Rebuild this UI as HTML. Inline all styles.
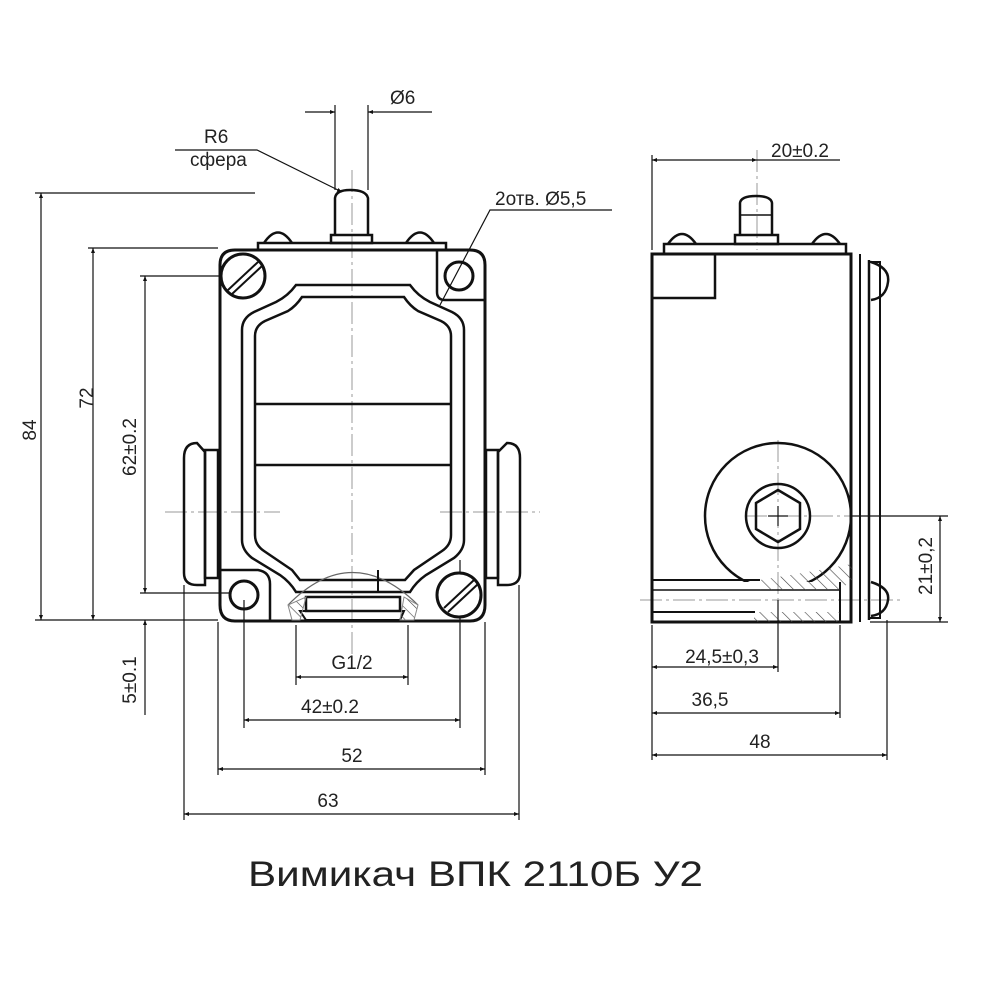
<!DOCTYPE html>
<html><head><meta charset="utf-8"><style>
html,body{margin:0;padding:0;background:#fff}
svg{display:block}
text{font-family:"Liberation Sans","DejaVu Sans",sans-serif;fill:#222}
</style></head><body>
<svg width="1000" height="1000" viewBox="0 0 1000 1000" xmlns="http://www.w3.org/2000/svg">
<defs>
<marker id="a" viewBox="0 0 10 10" refX="10" refY="5" markerWidth="9" markerHeight="5" orient="auto-start-reverse" markerUnits="userSpaceOnUse"><path d="M0,1 L10,5 L0,9 z" fill="#111"/></marker>
<pattern id="h" width="8" height="8" patternUnits="userSpaceOnUse" patternTransform="rotate(-45)"><line x1="0" y1="0" x2="0" y2="8" stroke="#444" stroke-width="1.2"/></pattern>
<clipPath id="cc"><rect x="640" y="420" width="211" height="162"/></clipPath>
</defs>
<g fill="none" stroke="#111" stroke-width="1.2">
<g stroke="#999" stroke-width="1" stroke-dasharray="22,4,3,4">
<line x1="352" y1="170" x2="352" y2="660"/>
<line x1="165" y1="512" x2="280" y2="512"/>
<line x1="440" y1="512" x2="540" y2="512"/>
<line x1="745" y1="516" x2="870" y2="516"/>
<line x1="778" y1="440" x2="778" y2="600"/>
<line x1="640" y1="600" x2="900" y2="600"/>
<line x1="757" y1="150" x2="757" y2="250"/>
</g>
<line x1="35" y1="193" x2="255" y2="193"/>
<line x1="88" y1="248" x2="218" y2="248"/>
<line x1="140" y1="276" x2="230" y2="276"/>
<line x1="140" y1="593" x2="230" y2="593"/>
<line x1="35" y1="620" x2="218" y2="620"/>
<line x1="335" y1="105" x2="335" y2="190"/>
<line x1="368" y1="105" x2="368" y2="190"/>
<line x1="296" y1="625" x2="296" y2="685"/>
<line x1="408" y1="625" x2="408" y2="685"/>
<line x1="244" y1="600" x2="244" y2="728"/>
<line x1="460" y1="560" x2="460" y2="728"/>
<line x1="218" y1="622" x2="218" y2="775"/>
<line x1="485" y1="622" x2="485" y2="775"/>
<line x1="184" y1="585" x2="184" y2="820"/>
<line x1="519" y1="585" x2="519" y2="820"/>
<line x1="41" y1="193" x2="41" y2="620" marker-start="url(#a)" marker-end="url(#a)"/>
<line x1="93" y1="248" x2="93" y2="620" marker-start="url(#a)" marker-end="url(#a)"/>
<line x1="145" y1="276" x2="145" y2="593" marker-start="url(#a)" marker-end="url(#a)"/>
<line x1="145" y1="715" x2="145" y2="620" marker-end="url(#a)"/>
<line x1="305" y1="112" x2="335" y2="112" marker-end="url(#a)"/>
<line x1="432" y1="112" x2="368" y2="112" marker-end="url(#a)"/>
<line x1="296" y1="677" x2="408" y2="677" marker-start="url(#a)" marker-end="url(#a)"/>
<line x1="244" y1="720" x2="460" y2="720" marker-start="url(#a)" marker-end="url(#a)"/>
<line x1="218" y1="769" x2="485" y2="769" marker-start="url(#a)" marker-end="url(#a)"/>
<line x1="184" y1="814" x2="519" y2="814" marker-start="url(#a)" marker-end="url(#a)"/>
<polyline points="175,150 257,150 342,192" marker-end="url(#a)"/>
<polyline points="612,210 490,210 440,305"/>
<line x1="652" y1="155" x2="652" y2="250"/>
<line x1="652" y1="160" x2="757" y2="160" marker-start="url(#a)" marker-end="url(#a)"/>
<line x1="757" y1="160" x2="840" y2="160"/>
<line x1="652" y1="625" x2="652" y2="760"/>
<line x1="778" y1="600" x2="778" y2="672"/>
<line x1="840" y1="625" x2="840" y2="718"/>
<line x1="887" y1="620" x2="887" y2="760"/>
<line x1="652" y1="667" x2="778" y2="667" marker-start="url(#a)" marker-end="url(#a)"/>
<line x1="652" y1="713" x2="840" y2="713" marker-start="url(#a)" marker-end="url(#a)"/>
<line x1="652" y1="755" x2="887" y2="755" marker-start="url(#a)" marker-end="url(#a)"/>
<line x1="850" y1="516" x2="948" y2="516"/>
<line x1="870" y1="622" x2="948" y2="622"/>
<line x1="940" y1="516" x2="940" y2="622" marker-start="url(#a)" marker-end="url(#a)"/>
</g>

<g fill="none" stroke="#111" stroke-width="3">
<path d="M220,265 Q220,250 235,250 L470,250 Q485,250 485,265 L485,605 Q485,621 470,621 L235,621 Q220,621 220,605 Z"/>
<rect x="258" y="243" width="188" height="7" stroke-width="2.5"/>
<path d="M264,243 Q278,222 292,243" stroke-width="2.5"/>
<path d="M406,243 Q420,222 434,243" stroke-width="2.5"/>
<rect x="331" y="235" width="41" height="8" stroke-width="2.5"/>
<path d="M335,235 L335,198 Q336,190 350,190 Q366,190 368,198 L368,235" stroke-width="2.5"/>
<path d="M205,452 L197,443 Q184,443 184,458 L184,573 Q184,585 197,585 L205,585 Z" stroke-width="2.5"/>
<rect x="205" y="450" width="13" height="128" stroke-width="2.5"/>
<path d="M498,452 L507,443 Q520,443 520,458 L520,573 Q520,585 507,585 L498,585 Z" stroke-width="2.5"/>
<rect x="486" y="450" width="12" height="128" stroke-width="2.5"/>
<path d="M242,330 L242,540 Q242,550 252,558 L280,575 Q290,582 296,592 L410,592 Q416,582 426,575 L454,558 Q464,550 464,540 L464,330 Q464,318 452,312 L430,302 Q418,296 410,285 L296,285 Q288,296 276,302 L254,312 Q242,318 242,330 Z" stroke-width="2.5"/>
<path d="M255,336 L255,535 Q255,545 264,551 L292,570 L300,580 L405,580 L414,570 L442,551 Q451,545 451,535 L451,336 Q451,326 441,321 L418,311 Q410,306 404,297 L302,297 Q296,306 288,311 L265,321 Q255,326 255,336 Z" stroke-width="2.5"/>
<line x1="255" y1="404" x2="451" y2="404" stroke-width="2.5"/>
<line x1="255" y1="465" x2="451" y2="465" stroke-width="2.5"/>
<circle cx="243" cy="276" r="22" fill="#fff"/>
<line x1="228" y1="290" x2="258" y2="262" stroke-width="2"/>
<line x1="232" y1="294" x2="262" y2="266" stroke-width="2"/>
<path d="M437,250 L437,292 Q437,300 445,300 L485,300" stroke-width="2.5"/>
<circle cx="459" cy="276" r="14"/>
<path d="M220,570 L258,570 Q270,572 270,584 L270,621" stroke-width="2.5"/>
<circle cx="244" cy="595" r="14"/>
<circle cx="459" cy="595" r="22" fill="#fff"/>
<line x1="444" y1="608" x2="474" y2="580" stroke-width="2"/>
<line x1="448" y1="612" x2="478" y2="584" stroke-width="2"/>
<rect x="306" y="597" width="94" height="14" stroke-width="2.5"/>
<path d="M300,611 L404,611 L400,620 L306,620 Z" stroke-width="2"/>
</g>
<path d="M288,605 Q352,540 418,605" fill="none" stroke="#666" stroke-width="1.2"/>
<path d="M288,605 L292,620 L300,620 L306,597 Z M404,597 L418,605 L414,620 L400,620 Z" fill="url(#h)" stroke="#888" stroke-width="1"/>
<line x1="378" y1="570" x2="378" y2="592" stroke="#111" stroke-width="2"/>

<g fill="none" stroke="#111" stroke-width="3">
<rect x="652" y="254" width="199" height="368"/>
<rect x="652" y="254" width="63" height="44" stroke-width="2.5"/>
<rect x="664" y="244" width="182" height="10" stroke-width="2.5"/>
<path d="M668,244 Q682,224 696,244" stroke-width="2.5"/>
<path d="M812,244 Q826,224 840,244" stroke-width="2.5"/>
<rect x="735" y="235" width="43" height="9" stroke-width="2.5"/>
<path d="M740,235 L740,203 Q741,196 756,196 Q771,196 772,203 L772,235" stroke-width="2.5"/>
<line x1="741" y1="215" x2="771" y2="215" stroke-width="1.5"/>
<line x1="860" y1="254" x2="860" y2="622" stroke-width="2"/>
<line x1="869" y1="260" x2="869" y2="620" stroke-width="2.5"/>
<path d="M869,262 L880,262 L880,618 L869,618" stroke-width="2"/>
<path d="M871,262 Q890,268 888,282 Q886,298 871,300" stroke-width="2.5"/>
<path d="M871,582 Q890,588 888,600 Q886,614 871,616" stroke-width="2.5"/>
<circle cx="778" cy="516" r="73" stroke-width="2.5" clip-path="url(#cc)"/>
<circle cx="778" cy="516" r="32" stroke-width="2.5"/>
<polygon points="778,490 800,503 800,529 778,542 756,529 756,503" stroke-width="2.5"/>
<line x1="652" y1="580" x2="760" y2="580" stroke-width="2"/>
<line x1="652" y1="612" x2="755" y2="612" stroke-width="2"/>
<line x1="652" y1="590" x2="840" y2="590" stroke-width="1.5"/>
<line x1="840" y1="582" x2="840" y2="622" stroke-width="2"/>
</g>
<path d="M760,580 Q810,572 852,564 L852,580 L840,590 L760,590 Z" fill="url(#h)" stroke="none"/>
<rect x="754" y="612" width="86" height="10" fill="url(#h)"/>
<line x1="768" y1="516" x2="788" y2="516" stroke="#111" stroke-width="1.2"/>
<line x1="778" y1="506" x2="778" y2="526" stroke="#111" stroke-width="1.2"/>

<g font-size="19" fill="#333">
<text transform="translate(36,430) rotate(-90)" text-anchor="middle">84</text>
<text transform="translate(93,398) rotate(-90)" text-anchor="middle">72</text>
<text transform="translate(136,447) rotate(-90)" text-anchor="middle">62±0.2</text>
<text transform="translate(136,680) rotate(-90)" text-anchor="middle">5±0.1</text>
<text transform="translate(932,566) rotate(-90)" text-anchor="middle">21±0,2</text>
<text x="390" y="104">Ø6</text>
<text x="204" y="143">R6</text>
<text x="190" y="166">сфера</text>
<text x="495" y="205">2отв. Ø5,5</text>
<text x="352" y="669" text-anchor="middle">G1/2</text>
<text x="330" y="713" text-anchor="middle">42±0.2</text>
<text x="352" y="762" text-anchor="middle">52</text>
<text x="328" y="807" text-anchor="middle">63</text>
<text x="800" y="157" text-anchor="middle">20±0.2</text>
<text x="722" y="663" text-anchor="middle">24,5±0,3</text>
<text x="710" y="706" text-anchor="middle">36,5</text>
<text x="760" y="748" text-anchor="middle">48</text>
</g>
<text x="248" y="886" font-size="35" fill="#111" textLength="455" lengthAdjust="spacingAndGlyphs">Вимикач ВПК 2110Б У2</text>
</svg>
</body></html>
